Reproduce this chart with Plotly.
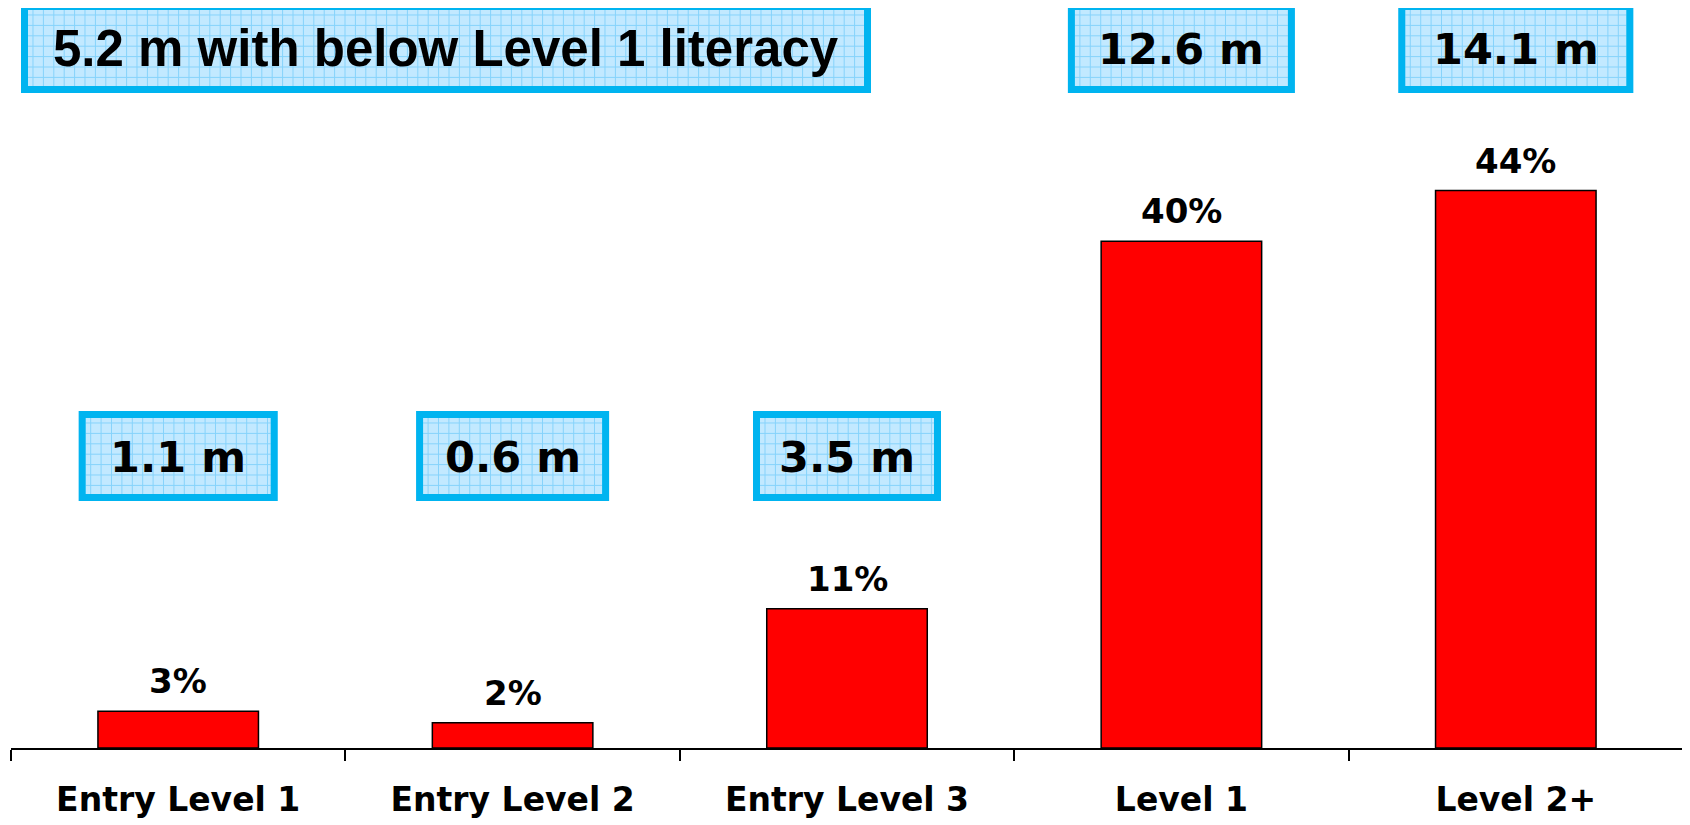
import plotly.graph_objects as go

# ---- data ----
categories = ["Entry Level 1", "Entry Level 2", "Entry Level 3", "Level 1", "Level 2+"]
shares = [2.9, 2.0, 11.0, 40.0, 44.0]
share_labels = ["3%", "2%", "11%", "40%", "44%"]
population_labels = ["1.1 m", "0.6 m", "3.5 m", "12.6 m", "14.1 m"]
summary_label = "5.2 m with below Level 1 literacy"

# ---- layout helpers (pixel geometry of the page) ----
W, H = 1690, 825
OFF = 8                    # page body margin compensation
X0, X1 = 11, 1683          # plot area left/right in px (page coords)
Y_BASE = 748               # axis baseline in px from top (page coords)
PX_PER_UNIT = 12.67
CAT_W = (X1 - X0) / len(categories)

def px(x):
    return (x - OFF) / W

def py(y):
    return 1 - (y - OFF) / H

BORDER = "#00B4F0"
FILL = "#C2E9FF"
GRID = "#86D3FB"

fig = go.Figure()
fig.add_trace(go.Bar(
    x=categories, y=shares,
    marker=dict(color="#FF0000", line=dict(color="#000000", width=1.5)),
    hoverinfo="skip", showlegend=False,
))

shapes = []
annotations = []

def add_box(left, top, right, bottom, text, font):
    bw = 7
    shapes.append(dict(type="rect", xref="paper", yref="paper",
                       x0=px(left), x1=px(right), y0=py(bottom), y1=py(top),
                       fillcolor=FILL, line=dict(width=0), layer="above"))
    # grid pattern
    step = 10.4
    path = []
    xi = left + bw + 5
    while xi < right - bw:
        path.append(f"M{px(xi):.5f},{py(top + bw):.5f} L{px(xi):.5f},{py(bottom - bw):.5f}")
        xi += step
    yi = top + bw + 5
    while yi < bottom - bw:
        path.append(f"M{px(left + bw):.5f},{py(yi):.5f} L{px(right - bw):.5f},{py(yi):.5f}")
        yi += step
    shapes.append(dict(type="path", xref="paper", yref="paper", path=" ".join(path),
                       line=dict(color=GRID, width=1), layer="above"))
    shapes.append(dict(type="rect", xref="paper", yref="paper",
                       x0=px(left + bw / 2), x1=px(right - bw / 2),
                       y0=py(bottom - bw / 2), y1=py(top + bw / 2),
                       line=dict(color=BORDER, width=bw), layer="above"))
    annotations.append(dict(xref="paper", yref="paper",
                            x=px((left + right) / 2), y=py((top + bottom) / 2 + 1),
                            text=text, showarrow=False, xanchor="center", yanchor="middle",
                            font=font))

num_font = dict(family="DejaVu Sans", size=43, color="#000000", weight="bold")
box_widths = [199, 193, 188, 227, 235]
for i, lab in enumerate(population_labels):
    cx = X0 + (i + 0.5) * CAT_W
    if i < 3:
        top, bottom = 411, 501
    else:
        top, bottom = 3, 93
    add_box(cx - box_widths[i] / 2, top, cx + box_widths[i] / 2, bottom, lab, num_font)

add_box(21, 3, 871, 93, summary_label,
        dict(family="Liberation Sans, Arial", size=51, color="#000000", weight="bold"))

for c, v, t in zip(categories, shares, share_labels):
    annotations.append(dict(x=c, y=v, xref="x", yref="y", text=t, showarrow=False,
                            xanchor="center", yanchor="middle", yshift=30,
                            font=dict(family="DejaVu Sans", size=34, color="#000000",
                                      weight="bold")))

fig.update_layout(
    width=W, height=H,
    margin=dict(l=0, r=0, t=0, b=0),
    paper_bgcolor="white", plot_bgcolor="white",
    bargap=0.52,
    shapes=shapes, annotations=annotations,
    xaxis=dict(domain=[px(X0), px(X1)], range=[-0.5, len(categories) - 0.5],
               showline=True, linecolor="#000000", linewidth=1.5,
               ticks="outside", tickson="boundaries", ticklen=11,
               tickcolor="#000000", tickwidth=1.5, showgrid=False,
               ticklabelstandoff=22,
               tickfont=dict(family="DejaVu Sans", size=33, color="#000000",
                             weight="bold")),
    yaxis=dict(domain=[py(Y_BASE), 1], range=[0, (Y_BASE - OFF) / PX_PER_UNIT],
               visible=False, showgrid=False, zeroline=False),
)

fig.write_html("out.html")
